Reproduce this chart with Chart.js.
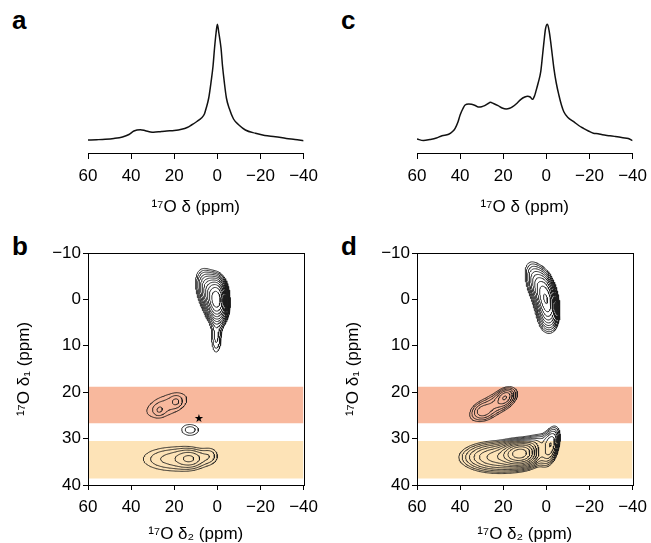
<!DOCTYPE html>
<html>
<head>
<meta charset="utf-8">
<script src="https://cdn.jsdelivr.net/npm/chart.js@4.4.0/dist/chart.umd.min.js"></script>
<style>
  body { margin: 0; background: #fff; width: 651px; height: 543px; overflow: hidden; position: relative; }
  canvas { position: absolute; }
  .lbl { position: absolute; font: bold 26px "Liberation Sans", Arial, sans-serif; line-height: 26px; color: #000; }
</style>
</head>
<body>
<div class="lbl" style="left:12px;top:7px">a</div>
<div class="lbl" style="left:341px;top:7px">c</div>
<div class="lbl" style="left:12px;top:233px">b</div>
<div class="lbl" style="left:341px;top:233px">d</div>
<canvas id="ca" width="325" height="230" style="left:0;top:0"></canvas>
<canvas id="cc" width="325" height="230" style="left:329px;top:0"></canvas>
<canvas id="cb" width="325" height="315" style="left:0;top:230px"></canvas>
<canvas id="cd" width="325" height="315" style="left:329px;top:230px"></canvas>
<script>
// 1D spectra: chemical shift (ppm) and intensity (a.u.)
var ppmA = [60, 56, 52, 48, 44, 41, 38.7, 35.7, 33.4, 31, 29.6, 26, 23.5, 20, 16.6, 14, 12, 9.5, 7.5, 6,
            5.2, 4, 2.9, 2, 1.3, 0.6, 0, -0.7, -1.7, -2.4, -3.2, -4.2, -5.5, -7.5, -10, -13, -17.7, -22, -26.9, -32, -36, -40];
var intA = [1, 1.3, 1.7, 2.5, 4, 6.5, 10, 11.3, 10.3, 9, 8.7, 9.5, 10, 10.5, 11.7, 13.5, 16, 19.5, 22.7, 27,
            32.7, 43, 59.3, 75, 93, 108, 116.7, 108, 93, 75, 59.3, 43, 32.7, 22, 16, 11, 7.7, 5.5, 4.3, 2.5, 1.5, 0.3];

var ppmC = [60, 57, 54, 51, 48.4, 45.3, 43.5, 42.3, 41, 40, 38.8, 37.7, 36, 34.7, 33, 31.6, 30, 28.6, 27, 26,
            24.5, 22.4, 20.5, 18.6, 17, 15.6, 13.5, 11.8, 10, 8.7, 7.5, 6.4, 5.5, 4.9, 3.8, 2.6, 1.8, 1.1, 0.4, -0.5,
            -1.3, -2, -2.8, -3.5, -4.6, -5.8, -7, -8.1, -10, -12.7, -15, -17.2, -19.5, -21.8, -24, -26, -29.5, -32, -35.5, -38, -40];
var intC = [2, 0.5, 1.5, 3, 5.3, 6.7, 9.5, 12.7, 19, 26, 32, 36, 37, 36.7, 35.5, 34, 34.3, 35.3, 37.5, 38.7,
            37.5, 35.3, 33, 32, 32.7, 34.3, 38, 41.7, 44, 44.7, 44, 41.7, 45, 49.3, 58, 69.3, 85, 99.3, 112, 116.7,
            110, 99.3, 85, 72.7, 58, 46, 36, 29.3, 23.5, 19.3, 15.5, 12.7, 10, 7.7, 7.3, 6.2, 5.3, 4.5, 3.3, 2.5, 0.3];

var xTicks = [60, 40, 20, 0, -20, -40];
var yTicks = [-10, 0, 10, 20, 30, 40];

// 2D spectra: peak components [delta2, delta1, width2, width1, tilt, height]
var peaksB = [
  [0, 0, 2.6, 2.6, 0, 0.6],
  [3, -1, 3.8, 3.0, -0.45, 0.35],
  [0.5, 8.5, 2.0, 2.8, 0, 0.1],
  [23.5, 22.8, 11, 3.0, 0.5, 0.085],
  [27, 24, 1.8, 0.9, 0, 0.025],
  [19, 22, 1.8, 0.9, 0, 0.028],
  [12.5, 28.1, 4.2, 1.2, 0, 0.085],
  [20, 34.4, 13, 2.3, 0, 0.11],
  [12.5, 34.3, 4, 1.3, 0, 0.08],
  [3, 33.5, 3, 1.5, 0, 0.045]
];
var levelsB = [0.06, 0.077, 0.098, 0.126, 0.161, 0.206, 0.264, 0.338, 0.432, 0.553, 0.708, 0.906];
var starsB = [[8.5, 25.8]];

var peaksD = [
  [0, 0, 2.8, 3.0, -0.3, 0.42],
  [4, -3, 3.5, 3.0, -0.5, 0.2],
  [-0.5, 3.5, 3.0, 2.5, 0, 0.1],
  [24.5, 22.8, 8, 2.5, 0.65, 0.11],
  [19, 21, 2.5, 1.2, 0.3, 0.11],
  [30, 24.2, 3, 1.2, 0, 0.05],
  [12, 33.2, 4.5, 1.4, 0, 0.65],
  [22, 34, 10, 1.9, 0, 0.28],
  [-2, 31.5, 2.5, 2.4, 0.4, 0.22],
  [6, 31, 5, 1.4, 0.5, 0.12]
];
var levelsD = [0.05, 0.065, 0.085, 0.11, 0.143, 0.186, 0.241, 0.314, 0.408, 0.53, 0.69, 0.9];

// shaded delta1 bands
var bandEdges = [[18.8, 26.7], [30.5, 38.6]];
var bandColors = ['#f8b89d', '#fde3b7'];

var FONT = '"Liberation Sans", Arial, sans-serif';

function fmtTick(v) {
  return v < 0 ? '\u2212' + Math.abs(v) : String(v);
}

function buildField(peaks) {
  var xs = [], ys = [], f = [];
  for (var i = 0; i <= 250; i++) xs.push(-40 + i * 0.4);
  for (var j = 0; j <= 250; j++) ys.push(-10 + j * 0.2);
  for (j = 0; j < ys.length; j++) {
    var row = new Float64Array(xs.length);
    for (i = 0; i < xs.length; i++) {
      var s = 0;
      peaks.forEach(function (p) {
        var dx = (xs[i] - p[0]) / p[2], dy = (ys[j] - p[1]) / p[3], r = p[4];
        s += p[5] * Math.exp(-0.5 * (dx * dx - 2 * r * dx * dy + dy * dy) / (1 - r * r));
      });
      row[i] = s;
    }
    f.push(row);
  }
  return {xs: xs, ys: ys, f: f};
}

// marching squares, stitched into polylines
function contourLines(field, L) {
  var xs = field.xs, ys = field.ys, f = field.f;
  var pos = new Map(), adj = new Map();
  function pt(key, xa, ya, va, xb, yb, vb) {
    if (!pos.has(key)) {
      var t = (L - va) / (vb - va);
      pos.set(key, {x: xa + t * (xb - xa), y: ya + t * (yb - ya)});
    }
    return key;
  }
  function link(a, b) {
    if (!adj.has(a)) adj.set(a, []);
    if (!adj.has(b)) adj.set(b, []);
    adj.get(a).push(b);
    adj.get(b).push(a);
  }
  for (var j = 0; j < ys.length - 1; j++) {
    for (var i = 0; i < xs.length - 1; i++) {
      var v0 = f[j][i], v1 = f[j][i + 1], v2 = f[j + 1][i + 1], v3 = f[j + 1][i];
      var b0 = v0 >= L, b1 = v1 >= L, b2 = v2 >= L, b3 = v3 >= L;
      if (b0 === b1 && b1 === b2 && b2 === b3) continue;
      var e = [
        b0 !== b1 ? pt('h' + i + '_' + j, xs[i], ys[j], v0, xs[i + 1], ys[j], v1) : null,
        b1 !== b2 ? pt('v' + (i + 1) + '_' + j, xs[i + 1], ys[j], v1, xs[i + 1], ys[j + 1], v2) : null,
        b2 !== b3 ? pt('h' + i + '_' + (j + 1), xs[i], ys[j + 1], v3, xs[i + 1], ys[j + 1], v2) : null,
        b3 !== b0 ? pt('v' + i + '_' + j, xs[i], ys[j], v0, xs[i], ys[j + 1], v3) : null
      ];
      var hit = e.filter(function (k) { return k; });
      if (hit.length === 2) {
        link(hit[0], hit[1]);
      } else if (hit.length === 4) {
        var c = (v0 + v1 + v2 + v3) / 4 >= L;
        if (c === b1) { link(e[3], e[0]); link(e[1], e[2]); }
        else { link(e[0], e[1]); link(e[2], e[3]); }
      }
    }
  }
  var used = new Set(), lines = [];
  adj.forEach(function (n, start) {
    if (used.has(start)) return;
    var line = [start], cur = start, nxt;
    used.add(start);
    while ((nxt = adj.get(cur).find(function (k) { return !used.has(k); }))) { used.add(nxt); line.push(nxt); cur = nxt; }
    cur = start;
    while ((nxt = adj.get(cur).find(function (k) { return !used.has(k); }))) { used.add(nxt); line.unshift(nxt); cur = nxt; }
    if (line.length > 2 && adj.get(line[line.length - 1]).indexOf(line[0]) >= 0) line.push(line[0]);
    lines.push(line.map(function (k) { return pos.get(k); }));
  });
  return lines;
}

function contourData(peaks, levels) {
  var field = buildField(peaks), data = [];
  levels.forEach(function (L) {
    contourLines(field, L).forEach(function (line) {
      data.push.apply(data, line);
      data.push({x: null, y: null});
    });
  });
  return data;
}

var framePlugin = {
  id: 'frame',
  afterDatasetsDraw: function (chart, args, opts) {
    if (!opts.box) return;
    var a = chart.chartArea, ctx = chart.ctx;
    ctx.save();
    ctx.strokeStyle = '#000';
    ctx.lineWidth = 1;
    ctx.strokeRect(Math.round(a.left) + 0.5, Math.round(a.top) + 0.5,
                   Math.round(a.right) - Math.round(a.left), Math.round(a.bottom) - Math.round(a.top));
    ctx.restore();
  }
};

var starPlugin = {
  id: 'stars',
  afterDatasetsDraw: function (chart, args, opts) {
    if (!opts.points) return;
    var ctx = chart.ctx;
    ctx.save();
    ctx.fillStyle = '#000';
    ctx.font = '11px "DejaVu Sans"';
    ctx.textAlign = 'center';
    ctx.textBaseline = 'middle';
    opts.points.forEach(function (p) {
      ctx.fillText('\u2605', chart.scales.x.getPixelForValue(p[0]), chart.scales.y.getPixelForValue(p[1]));
    });
    ctx.restore();
  }
};

function xAxis(title, tickLen, pad, height, titlePad) {
  return {
    type: 'linear', position: 'bottom', reverse: true, min: -40, max: 60,
    afterBuildTicks: function (s) { s.ticks = xTicks.map(function (v) { return {value: v}; }); },
    afterFit: function (s) { s.height = height; },
    grid: {drawOnChartArea: false, drawTicks: true, tickLength: tickLen, color: '#000', lineWidth: 1},
    border: {display: true, color: '#000', width: 1},
    ticks: {color: '#000', padding: pad, maxRotation: 0, font: {family: FONT, size: 17}, callback: fmtTick},
    title: {display: true, text: title, color: '#000', font: {family: FONT, size: 17}, padding: {top: 0, bottom: titlePad}}
  };
}

function spectrumChart(id, ppm, intensity) {
  return new Chart(document.getElementById(id), {
    type: 'scatter',
    data: {
      datasets: [{
        data: ppm.map(function (x, i) { return {x: x, y: intensity[i]}; }),
        showLine: true, borderColor: '#111', borderWidth: 1.5, pointRadius: 0,
        cubicInterpolationMode: 'monotone'
      }]
    },
    options: {
      responsive: false, animation: false, events: [],
      layout: {padding: {left: 88, right: 18, top: 20, bottom: 7}},
      plugins: {legend: {display: false}, tooltip: {enabled: false}},
      scales: {
        x: xAxis('\u00b9\u2077O \u03b4 (ppm)', 6, 7, 70, 5),
        y: {display: false, min: -12, max: 121}
      }
    },
    plugins: []
  });
}

function contourChart(id, peaks, levels, stars) {
  var datasets = [{
    data: contourData(peaks, levels),
    showLine: true, borderColor: '#1c1c1c', borderWidth: 0.9, pointRadius: 0,
    spanGaps: false, borderJoinStyle: 'round', order: 0
  }];
  bandEdges.forEach(function (b, i) {
    datasets.push({
      data: [{x: 60, y: b[0]}, {x: -40, y: b[0]}],
      showLine: true, borderWidth: 0, pointRadius: 0,
      backgroundColor: bandColors[i], fill: {target: {value: b[1]}}, order: 5
    });
  });
  return new Chart(document.getElementById(id), {
    type: 'scatter',
    data: {datasets: datasets},
    options: {
      responsive: false, animation: false, events: [],
      layout: {padding: {left: 0, right: 18, top: 23, bottom: 0}},
      plugins: {legend: {display: false}, tooltip: {enabled: false}, frame: {box: true}, stars: {points: stars}},
      scales: {
        x: xAxis('\u00b9\u2077O \u03b4\u2082 (ppm)', 5, 7, 60, 0),
        y: {
          type: 'linear', position: 'left', reverse: true, min: -10, max: 40,
          afterBuildTicks: function (s) { s.ticks = yTicks.map(function (v) { return {value: v}; }); },
          afterFit: function (s) { s.width = 88; },
          grid: {drawOnChartArea: false, drawTicks: true, tickLength: 5, color: '#000', lineWidth: 1},
          border: {display: true, color: '#000', width: 1},
          ticks: {color: '#000', padding: 2, font: {family: FONT, size: 17}, callback: fmtTick},
          title: {display: true, text: '\u00b9\u2077O \u03b4\u2081 (ppm)', color: '#000', font: {family: FONT, size: 17}, padding: {top: 14, bottom: 0}}
        }
      }
    },
    plugins: [framePlugin, starPlugin]
  });
}

spectrumChart('ca', ppmA, intA);
spectrumChart('cc', ppmC, intC);
contourChart('cb', peaksB, levelsB, starsB);
contourChart('cd', peaksD, levelsD, []);
</script>
</body>
</html>
